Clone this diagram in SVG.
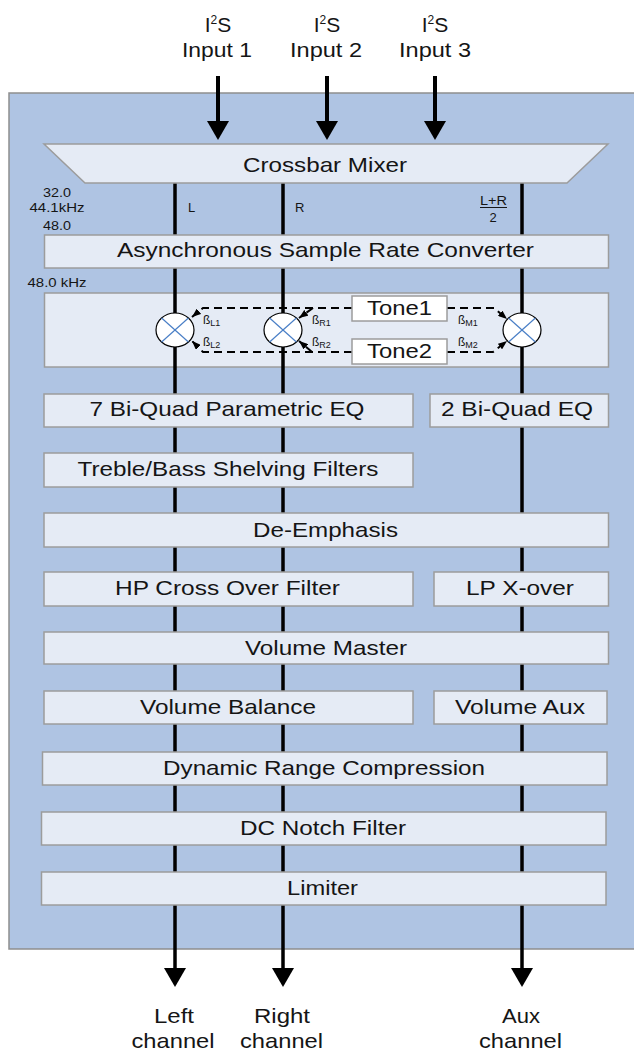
<svg xmlns="http://www.w3.org/2000/svg" width="634" height="1051" viewBox="0 0 634 1051">
<style>
.box{fill:#E5EBF5;stroke:#9C9C9C;stroke-width:1.5}
.wbox{fill:#FFFFFF;stroke:#9C9C9C;stroke-width:1.5}
.t{font-family:"Liberation Sans",Arial,sans-serif;font-size:21px;fill:#151515;text-anchor:middle}
.s{font-family:"Liberation Sans",Arial,sans-serif;font-size:13px;fill:#151515}
.b{font-family:"Liberation Sans",Arial,sans-serif;font-size:12px;fill:#151515}
.flow{stroke:#000;stroke-width:3.5;fill:none}
.io{stroke:#000;stroke-width:4;fill:none}
.dash{stroke:#000;stroke-width:2;stroke-dasharray:8 5;fill:none}
.mix{fill:#FFFFFF;stroke:#000;stroke-width:1.2}
.x{stroke:#4A7FC6;stroke-width:1.2}
</style>
<defs>
<marker id="big" viewBox="0 0 19 22" refX="0" refY="11" markerWidth="19" markerHeight="22" orient="auto" markerUnits="userSpaceOnUse"><path d="M0,0 L19,11 L0,22 Z" fill="#000"/></marker>
<marker id="small" viewBox="0 0 9 7" refX="9" refY="3.5" markerWidth="9" markerHeight="7" orient="auto" markerUnits="userSpaceOnUse"><path d="M0,0 L9,3.5 L0,7 Z" fill="#000"/></marker>
</defs>

<g id="dsp-panel">
<rect x="9" y="93" width="640" height="856" fill="#AFC4E3" stroke="#8E8E8E" stroke-width="1.5"/>
</g>
<g id="tone-panel">
<rect class="box" x="44.5" y="293" width="564" height="74"/>
</g>

<g id="connectors">
<line class="io" x1="218" y1="76" x2="218" y2="121" marker-end="url(#big)"/>
<line class="io" x1="327" y1="76" x2="327" y2="121" marker-end="url(#big)"/>
<line class="io" x1="435" y1="76" x2="435" y2="121" marker-end="url(#big)"/>
<line class="flow" x1="175" y1="183" x2="175" y2="968" marker-end="url(#big)"/>
<line class="flow" x1="283" y1="183" x2="283" y2="968" marker-end="url(#big)"/>
<line class="flow" x1="522" y1="183" x2="522" y2="968" marker-end="url(#big)"/>
<path class="dash" d="M352,308 H203 L192,317" marker-end="url(#small)"/>
<path class="dash" d="M313,308 L299,318" marker-end="url(#small)"/>
<path class="dash" d="M447,308 H494 L507,319" marker-end="url(#small)"/>
<path class="dash" d="M352,352 H203 L192,341" marker-end="url(#small)"/>
<path class="dash" d="M312,352 L299,341" marker-end="url(#small)"/>
<path class="dash" d="M447,352 H493 L507,341" marker-end="url(#small)"/>
</g>

<g id="inputs">
<text class="t" x="218" y="32">I<tspan font-size="12" dy="-8">2</tspan><tspan dy="8">S</tspan></text>
<text class="t" x="217" y="57" textLength="70" lengthAdjust="spacingAndGlyphs">Input 1</text>
<text class="t" x="327" y="32">I<tspan font-size="12" dy="-8">2</tspan><tspan dy="8">S</tspan></text>
<text class="t" x="326" y="57" textLength="72" lengthAdjust="spacingAndGlyphs">Input 2</text>
<text class="t" x="435" y="32">I<tspan font-size="12" dy="-8">2</tspan><tspan dy="8">S</tspan></text>
<text class="t" x="435" y="57" textLength="72" lengthAdjust="spacingAndGlyphs">Input 3</text>
</g>

<g id="crossbar-mixer">
<polygon class="box" points="44,144 608,144 567,183 85,183"/>
<text class="t" x="325" y="172" textLength="164" lengthAdjust="spacingAndGlyphs">Crossbar Mixer</text>
</g>

<g id="channel-labels">
<text class="s" x="57" y="197" text-anchor="middle" textLength="28" lengthAdjust="spacingAndGlyphs">32.0</text>
<text class="s" x="57" y="212" text-anchor="middle" textLength="55" lengthAdjust="spacingAndGlyphs">44.1kHz</text>
<text class="s" x="57" y="230" text-anchor="middle" textLength="28" lengthAdjust="spacingAndGlyphs">48.0</text>
<text class="s" x="188" y="212">L</text>
<text class="s" x="295" y="212">R</text>
<text class="s" x="493.5" y="205" text-anchor="middle" textLength="27" lengthAdjust="spacingAndGlyphs">L+R</text>
<line x1="480" y1="207.5" x2="507" y2="207.5" stroke="#151515" stroke-width="1"/>
<text class="s" x="493" y="222" text-anchor="middle">2</text>
<text class="s" x="27.5" y="287" textLength="59" lengthAdjust="spacingAndGlyphs">48.0 kHz</text>
</g>

<g id="asrc">
<rect class="box" x="44.5" y="235" width="564" height="33"/>
<text class="t" x="325.5" y="257" textLength="417" lengthAdjust="spacingAndGlyphs">Asynchronous Sample Rate Converter</text>
</g>

<g id="mixer-L">
<ellipse class="mix" cx="175" cy="330" rx="19" ry="17"/>
<line class="x" x1="161.6" y1="318" x2="188.4" y2="342"/>
<line class="x" x1="161.6" y1="342" x2="188.4" y2="318"/>
</g>
<g id="mixer-R">
<ellipse class="mix" cx="283" cy="330" rx="19" ry="17"/>
<line class="x" x1="269.6" y1="318" x2="296.4" y2="342"/>
<line class="x" x1="269.6" y1="342" x2="296.4" y2="318"/>
</g>
<g id="mixer-M">
<ellipse class="mix" cx="522" cy="330" rx="19" ry="17"/>
<line class="x" x1="508.6" y1="318" x2="535.4" y2="342"/>
<line class="x" x1="508.6" y1="342" x2="535.4" y2="318"/>
</g>

<g id="tone1">
<rect class="wbox" x="352" y="296" width="95" height="25"/>
<text class="t" x="399.5" y="315" font-size="22" textLength="65" lengthAdjust="spacingAndGlyphs">Tone1</text>
</g>
<g id="tone2">
<rect class="wbox" x="352" y="339" width="95" height="25"/>
<text class="t" x="399.5" y="358" font-size="22" textLength="65" lengthAdjust="spacingAndGlyphs">Tone2</text>
</g>

<g id="gain-labels">
<text class="b" x="203" y="324">ß<tspan font-size="9" dy="2">L1</tspan></text>
<text class="b" x="203" y="346">ß<tspan font-size="9" dy="2">L2</tspan></text>
<text class="b" x="312" y="324">ß<tspan font-size="9" dy="2">R1</tspan></text>
<text class="b" x="312" y="346">ß<tspan font-size="9" dy="2">R2</tspan></text>
<text class="b" x="458" y="324">ß<tspan font-size="9" dy="2">M1</tspan></text>
<text class="b" x="458" y="346">ß<tspan font-size="9" dy="2">M2</tspan></text>
</g>

<g id="peq7">
<rect class="box" x="44" y="394" width="369" height="33"/>
<text class="t" x="227" y="416" textLength="275" lengthAdjust="spacingAndGlyphs">7 Bi-Quad Parametric EQ</text>
</g>
<g id="peq2">
<rect class="box" x="430" y="394" width="178.5" height="33"/>
<text class="t" x="517" y="416" textLength="152" lengthAdjust="spacingAndGlyphs">2 Bi-Quad EQ</text>
</g>
<g id="treble-bass">
<rect class="box" x="44" y="453" width="369" height="34"/>
<text class="t" x="228" y="476" textLength="301" lengthAdjust="spacingAndGlyphs">Treble/Bass Shelving Filters</text>
</g>
<g id="de-emphasis">
<rect class="box" x="44" y="513" width="564.5" height="34"/>
<text class="t" x="325.5" y="537" textLength="145" lengthAdjust="spacingAndGlyphs">De-Emphasis</text>
</g>
<g id="hp-xover">
<rect class="box" x="44" y="572" width="369" height="34"/>
<text class="t" x="227.5" y="595" textLength="225" lengthAdjust="spacingAndGlyphs">HP Cross Over Filter</text>
</g>
<g id="lp-xover">
<rect class="box" x="434" y="572" width="174.5" height="34"/>
<text class="t" x="520" y="595" textLength="108" lengthAdjust="spacingAndGlyphs">LP X-over</text>
</g>
<g id="volume-master">
<rect class="box" x="44" y="632" width="564.5" height="32"/>
<text class="t" x="326" y="655" textLength="162" lengthAdjust="spacingAndGlyphs">Volume Master</text>
</g>
<g id="volume-balance">
<rect class="box" x="44" y="691" width="369" height="33"/>
<text class="t" x="228" y="714" textLength="176" lengthAdjust="spacingAndGlyphs">Volume Balance</text>
</g>
<g id="volume-aux">
<rect class="box" x="434" y="691" width="173" height="33"/>
<text class="t" x="520" y="714" textLength="130" lengthAdjust="spacingAndGlyphs">Volume Aux</text>
</g>
<g id="drc">
<rect class="box" x="42.5" y="752" width="564.5" height="33"/>
<text class="t" x="324" y="775" textLength="322" lengthAdjust="spacingAndGlyphs">Dynamic Range Compression</text>
</g>
<g id="dc-notch">
<rect class="box" x="41.5" y="812" width="564.5" height="33"/>
<text class="t" x="323" y="835" textLength="166" lengthAdjust="spacingAndGlyphs">DC Notch Filter</text>
</g>
<g id="limiter">
<rect class="box" x="41.5" y="872" width="564.5" height="33"/>
<text class="t" x="322.5" y="895" textLength="71" lengthAdjust="spacingAndGlyphs">Limiter</text>
</g>

<g id="outputs">
<text class="t" x="174" y="1023" textLength="40" lengthAdjust="spacingAndGlyphs">Left</text>
<text class="t" x="173" y="1048" textLength="83" lengthAdjust="spacingAndGlyphs">channel</text>
<text class="t" x="282" y="1023" textLength="56" lengthAdjust="spacingAndGlyphs">Right</text>
<text class="t" x="281.5" y="1048" textLength="83" lengthAdjust="spacingAndGlyphs">channel</text>
<text class="t" x="521" y="1023" textLength="38" lengthAdjust="spacingAndGlyphs">Aux</text>
<text class="t" x="520.5" y="1048" textLength="83" lengthAdjust="spacingAndGlyphs">channel</text>
</g>
</svg>
